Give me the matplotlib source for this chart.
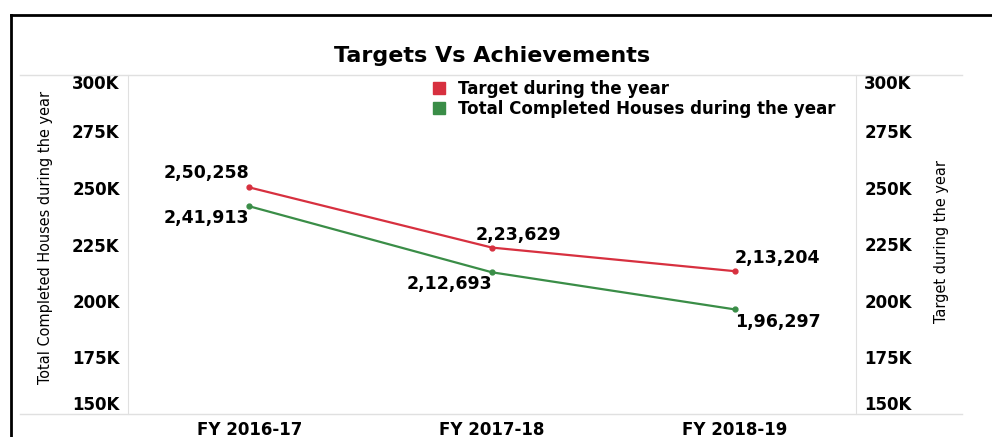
import matplotlib.pyplot as plt
from matplotlib.lines import Line2D
from matplotlib import font_manager
from matplotlib.font_manager import FontProperties

years = ['FY 2016-17', 'FY 2017-18', 'FY 2018-19']
target = [250258, 223629, 213204]
completed = [241913, 212693, 196297]
target_labels = ['2,50,258', '2,23,629', '2,13,204']
completed_labels = ['2,41,913', '2,12,693', '1,96,297']
yticks = [150000, 175000, 200000, 225000, 250000, 275000, 300000]
ytick_labels = ['150K', '175K', '200K', '225K', '250K', '275K', '300K']

red = '#d7303f'
green = '#3a8d47'

# condensed font for the axis titles, if one is around
cond = None
for f in font_manager.fontManager.ttflist:
    fn = f.fname.lower()
    if 'dejavusanscondensed.ttf' in fn or 'liberationsansnarrow-regular' in fn:
        cond = f.fname
        break
if cond:
    lab_font = FontProperties(fname=cond, size=11.6)
else:
    lab_font = FontProperties(family='DejaVu Sans', size=10.5)

fig = plt.figure(figsize=(9.92, 4.37), dpi=100)
ax = fig.add_axes([128 / 992, 1 - 414 / 437, (856 - 128) / 992, (414 - 75) / 437])
ax2 = ax.twinx()

x = range(len(years))
ax.plot(x, completed, color=green, lw=1.6, marker='o', ms=3.5, zorder=3)
ax2.plot(x, target, color=red, lw=1.6, marker='o', ms=3.5, zorder=3)

for a in (ax, ax2):
    a.set_ylim(150000, 300000)
    a.set_xlim(-0.5, 2.5)
    a.set_yticks(yticks)
    a.set_yticklabels(ytick_labels, fontweight='bold', fontsize=12)
    a.tick_params(length=0, pad=6)
    for s in a.spines.values():
        s.set_visible(False)
    tl = a.get_yticklabels()
    tl[0].set_va('bottom')
    tl[-1].set_va('top')

ax.set_yticks(yticks[1:-1], minor=True)
ax.grid(True, which='minor', axis='y', color='#f2f2f2', lw=1)
ax.set_xticks(list(x))
ax.set_xticklabels(years, fontweight='bold', fontsize=12)
ax.tick_params(axis='x', pad=5)
ax.spines['left'].set_visible(True)
ax.spines['left'].set_color('#e0e0e0')
ax2.spines['right'].set_visible(True)
ax2.spines['right'].set_color('#e0e0e0')

ax.set_ylabel('Total Completed Houses during the year', fontproperties=lab_font)
ax2.set_ylabel('Target during the year', fontproperties=lab_font)
ax.yaxis.set_label_coords((53 - 128) / 728, 1 - (237 - 75) / 339)
ax2.yaxis.set_label_coords((934 - 128) / 728, 1 - (242 - 75) / 339)

# data labels
t_off = [(0, 14, 'right'), (-16, 13, 'left'), (0, 13, 'left')]
c_off = [(0, -12, 'right'), (0, -12, 'right'), (0, -13, 'left')]
for i in x:
    dx, dy, ha = t_off[i]
    ax2.annotate(target_labels[i], (i, target[i]), xytext=(dx, dy), textcoords='offset pixels',
                 ha=ha, va='center', fontsize=12.5, fontweight='bold')
    dx, dy, ha = c_off[i]
    ax.annotate(completed_labels[i], (i, completed[i]), xytext=(dx, dy), textcoords='offset pixels',
                ha=ha, va='center', fontsize=12.5, fontweight='bold')

fig.text(492 / 992, 1 - 56 / 437, 'Targets Vs Achievements', ha='center', va='center',
         fontsize=16, fontweight='bold')

handles = [Line2D([], [], ls='', marker='s', ms=8, color=red),
           Line2D([], [], ls='', marker='s', ms=8, color=green)]
fig.legend(handles, ['Target during the year', 'Total Completed Houses during the year'],
           loc='upper left', bbox_to_anchor=(426 / 992, 1 - 73 / 437), frameon=False,
           prop={'weight': 'bold', 'size': 12}, handlelength=0.7, handletextpad=0.8,
           labelspacing=0.15, borderaxespad=0)

# frame and divider lines
fig.add_artist(Line2D([20 / 992, 962 / 992], [1 - 75 / 437] * 2, color='#e0e0e0', lw=1))
fig.add_artist(Line2D([20 / 992, 962 / 992], [1 - 414 / 437] * 2, color='#e0e0e0', lw=1))
fig.add_artist(Line2D([11 / 992, 1], [1 - 15 / 437] * 2, color='black', lw=2))
fig.add_artist(Line2D([11 / 992] * 2, [0, 1 - 15 / 437], color='black', lw=2))

fig.savefig('out.png', dpi=100)
